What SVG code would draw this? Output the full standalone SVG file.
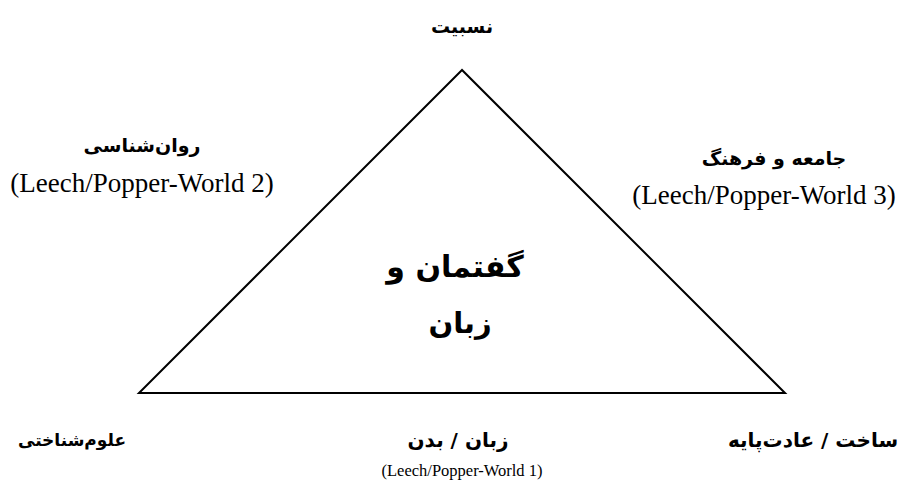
<svg xmlns="http://www.w3.org/2000/svg" width="919" height="481" viewBox="0 0 919 481">
<style>
.fa{font-family:"DejaVu Sans","Noto Sans",sans-serif;font-weight:bold;fill:#000;text-anchor:middle}
.en{font-family:"Liberation Serif","Times New Roman",serif;fill:#000;text-anchor:middle}
</style>
<rect width="919" height="481" fill="#fff"/>
<g id="connectors">
<polygon points="462,70 139,393 785,393" fill="none" stroke="#000" stroke-width="2" stroke-linejoin="miter"/>
</g>
<g id="node-top">
<text class="fa" x="462" y="33" font-size="19" direction="rtl">نسبیت</text>
</g>
<g id="node-left">
<text class="fa" x="142" y="152" font-size="19" direction="rtl">روان&#x200C;شناسی</text>
<text class="en" x="142" y="192" font-size="27">(Leech/Popper-World 2)</text>
</g>
<g id="node-right">
<text class="fa" x="774" y="165" font-size="19" direction="rtl">جامعه و فرهنگ</text>
<text class="en" x="764" y="204" font-size="27">(Leech/Popper-World 3)</text>
</g>
<g id="node-center">
<text class="fa" x="455" y="277" font-size="30" direction="rtl">گفتمان و</text>
<text class="fa" x="460" y="333" font-size="29" direction="rtl">زبان</text>
</g>
<g id="node-bottom-left">
<text class="fa" x="72" y="446" font-size="17" direction="rtl">علوم&#x200C;شناختی</text>
</g>
<g id="node-bottom">
<text class="fa" x="458" y="447" font-size="20" direction="rtl">زبان / بدن</text>
<text class="en" x="462" y="476" font-size="16.5">(Leech/Popper-World 1)</text>
</g>
<g id="node-bottom-right">
<text class="fa" x="813" y="447" font-size="20" direction="rtl">ساخت / عادت&#x200C;پایه</text>
</g>
</svg>
